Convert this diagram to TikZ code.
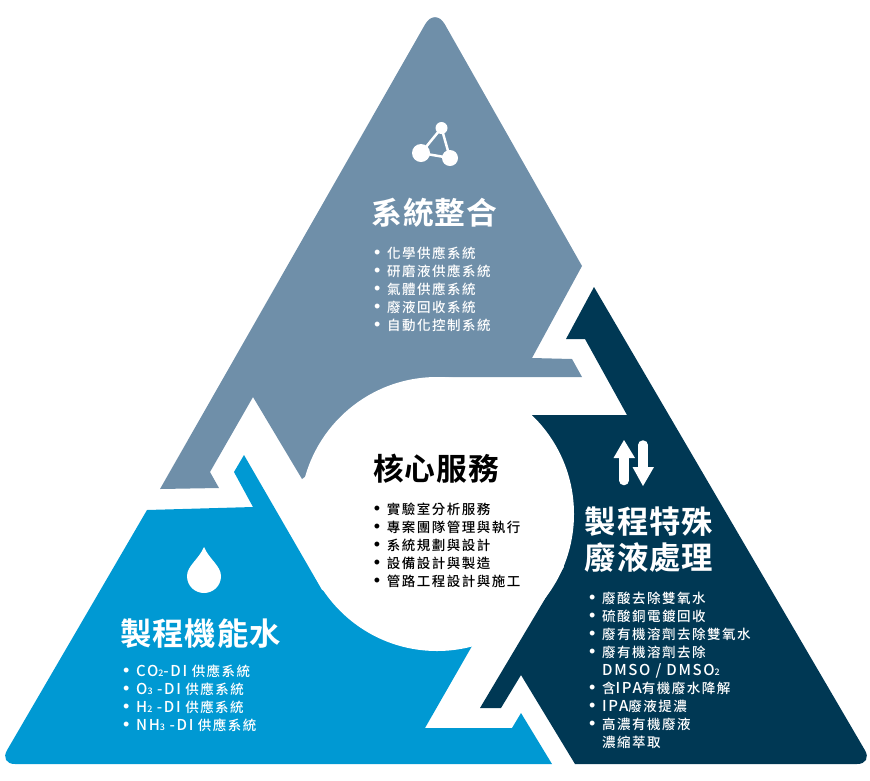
\documentclass[tikz,border=0pt]{standalone}
\usepackage{fontspec}
\usepackage{xcolor}
\setmainfont[LetterSpace=11]{Noto Sans CJK TC Medium}
\newfontfamily\titlefont[LetterSpace=3]{Noto Sans CJK TC Bold}
\newfontfamily\dotfont{Liberation Sans}
\definecolor{region-grey}{HTML}{6F8FA9}
\definecolor{region-navy}{HTML}{003854}
\definecolor{region-blue}{HTML}{0099D3}
\newcommand{\subnum}[1]{{\fontsize{9}{9}\selectfont #1}}
\newcommand{\latin}[1]{{\fontsize{15}{15}\selectfont #1}}
\newcommand{\itemdot}{\makebox[13pt][l]{\dotfont\fontsize{18}{18}\selectfont •}}
\newcommand{\itemgap}{\hspace*{13pt}}
\tikzset{
    list-box/.style = {inner sep=0pt, anchor=north west, align=left, font=\fontsize{13.5}{18}\selectfont},
    title-box/.style = {inner sep=0pt, align=center, font=\titlefont\fontsize{#1}{36}\selectfont},
    icon-line/.style = {draw=white, line width=2.5pt},
    icon-arrow/.style = {draw=white, line width=9.5pt, line cap=round},
}

\begin{document}
\begin{tikzpicture}[x=1pt, y=-1pt]
\useasboundingbox (0,0) rectangle (870,780);

\fill[region-grey] (160,489) -- (219,488) -- (210,472) -- (253,397) -- (302,479) -- (437,377) -- (582,377) -- (572,359) -- (532,358) -- (582,266) [rounded corners=20pt] -- (435,7) [sharp corners] -- cycle;
\fill[region-navy] (531,415) -- (627,415) -- (585,339) -- (566,339) -- (594,287) [rounded corners=16pt] -- (873,764) [sharp corners] -- (575,764) -- (521,675) -- (501,708) -- (480,708) -- (564,567) -- cycle;
\fill[region-blue] (244,455) -- (234,472) -- (253,507) -- (147,510) [rounded corners=16pt] -- (-1,764) [sharp corners] -- (552,764) -- (521,713) -- (512,728) -- (425,728) -- (472,646) -- (322,590) -- cycle;

\node[circle, fill=white, minimum size=274pt, inner sep=0pt] (core) at (437,514) {};

\fill[white] (421,153) circle (9);
\fill[white] (441.5,128) circle (6);
\fill[white] (450,158) circle (8);
\draw[icon-line] (421,153) -- (441.5,128) -- (450,158) -- cycle;

\draw[icon-arrow] (624,450) -- (624,480.5);
\fill[white] (624,440) -- (635,458) -- (613.5,458) -- cycle;
\draw[icon-arrow] (643,445) -- (643,475);
\fill[white] (643,486) -- (632.5,467) -- (654,467) -- cycle;

\fill[white] (204,547) .. controls (199,559) and (187,566) .. (187,576) .. controls (187,586) and (195,593) .. (204,593) .. controls (213,593) and (221,586) .. (221,576) .. controls (221,566) and (209,559) .. (204,547) -- cycle;

\node[title-box=30.8, text=white] (system-title) at (434.5,213) {系統整合};
\node[list-box, text=white] (system-list) at (374,246.5) {\itemdot 化學供應系統\\ \itemdot 研磨液供應系統\\ \itemdot 氣體供應系統\\ \itemdot 廢液回收系統\\ \itemdot 自動化控制系統};

\node[title-box=30.8, text=black] (core-title) at (436,469) {核心服務};
\node[list-box, text=black] (core-list) at (373.7,502.5) {\itemdot 實驗室分析服務\\ \itemdot 專案團隊管理與執行\\ \itemdot 系統規劃與設計\\ \itemdot 設備設計與製造\\ \itemdot 管路工程設計與施工};

\node[title-box=31.4, text=white] (waste-title) at (649,540) {製程特殊\\廢液處理};
\node[list-box, text=white] (waste-list) at (589,591.5) {\itemdot 廢酸去除雙氧水\\ \itemdot 硫酸銅電鍍回收\\ \itemdot 廢有機溶劑去除雙氧水\\ \itemdot 廢有機溶劑去除\\ \itemgap \latin{DMSO / DMSO}\subnum{2}\\ \itemdot 含\latin{IPA}有機廢水降解\\ \itemdot \latin{IPA}廢液提濃\\ \itemdot 高濃有機廢液\\ \itemgap 濃縮萃取};

\node[title-box=31.4, text=white] (water-title) at (200.5,634) {製程機能水};
\node[list-box, text=white] (water-list) at (123,664.5) {\itemdot \latin{CO}\subnum{2}\latin{-DI} 供應系統\\ \itemdot \latin{O}\subnum{3} \latin{-DI} 供應系統\\ \itemdot \latin{H}\subnum{2} \latin{-DI} 供應系統\\ \itemdot \latin{NH}\subnum{3} \latin{-DI} 供應系統};
\end{tikzpicture}
\end{document}
